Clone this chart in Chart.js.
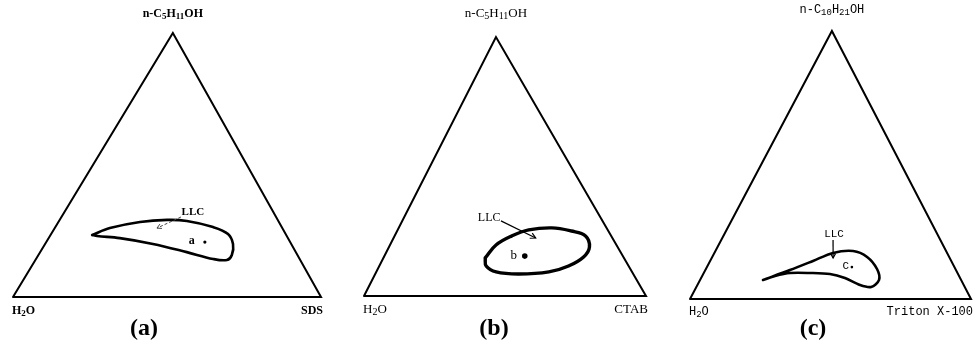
<!DOCTYPE html>
<html>
<head>
<meta charset="utf-8">
<script src="https://cdn.jsdelivr.net/npm/chart.js@4/dist/chart.umd.min.js"></script>
<style>
  html, body { margin: 0; padding: 0; background: #fff; }
  #wrap { position: relative; width: 976px; height: 348px; overflow: hidden; background: #fff; }
  .panel { position: absolute; top: 0; height: 348px; }
  .panel canvas { display: block; }
</style>
</head>
<body>
<div id="wrap">
  <div class="panel" style="left:0;width:330px"><canvas id="panelA" width="330" height="348"></canvas></div>
  <div class="panel" style="left:330px;width:320px"><canvas id="panelB" width="320" height="348"></canvas></div>
  <div class="panel" style="left:650px;width:326px"><canvas id="panelC" width="326" height="348"></canvas></div>
</div>
<script>
// Components of each system: [water corner, surfactant corner, alcohol corner]
const componentsA = ['H2O', 'SDS', 'n-C5H11OH'];
const componentsB = ['H2O', 'CTAB', 'n-C5H11OH'];
const componentsC = ['H2O', 'Triton X-100', 'n-C10H21OH'];

// Boundary of the lyotropic liquid crystal (LLC) region, [surfactant %, alcohol %]
const llcBoundaryA = [
  [13.5, 23.5], [17.9, 26.1], [26.5, 28.4], [34.9, 29.2], [41.5, 28.8],
  [51.2, 26.5], [57.4, 23.9], [61.0, 20.1], [62.8, 15.9], [62.2, 14.0],
  [57.5, 14.4], [47.6, 17.0], [35.0, 20.1], [23.1, 22.3], [15.3, 23.1], [13.5, 23.5]
];
const llcBoundaryB = [
  [36.1, 14.7], [37.6, 19.7], [41.6, 23.2], [46.5, 25.5], [54.3, 26.3],
  [61.8, 25.1], [67.7, 23.2], [71.1, 18.9], [70.8, 15.1], [67.1, 11.6],
  [61.2, 9.3], [51.0, 8.5], [42.5, 9.3], [37.9, 11.6], [36.1, 14.7]
];
const llcBoundaryC = [
  [22.4, 7.1], [30.1, 10.8], [36.6, 14.2], [42.2, 17.2], [49.0, 17.9],
  [55.1, 15.7], [60.9, 11.2], [63.7, 7.1], [62.2, 4.5], [57.9, 5.2],
  [51.2, 7.8], [45.1, 9.3], [37.8, 9.7], [30.7, 9.7], [25.9, 8.6], [22.4, 7.1]
];

// Chosen sample compositions inside the LLC region, [surfactant %, alcohol %]
const sampleNames = ['a', 'b', 'C'];
const samplePoints = [[51.5, 20.8], [49.8, 15.4], [51.6, 11.9]];

// "LLC" callouts: text anchor, arrow start, arrow end, [surfactant %, alcohol %]
const calloutText = 'LLC';
const calloutA = [[41.7, 32.2], [38.8, 30.3], [33.2, 26.1]];
const calloutB = [[30.3, 30.1], [35.0, 29.0], [50.4, 22.4]];
const calloutC = [[39.0, 24.3], [39.8, 22.0], [43.2, 15.3]];

const panelCaptions = ['(a)', '(b)', '(c)'];

// Corners of the composition triangle, [surfactant %, alcohol %]
const triangleCorners = [[0, 0], [100, 0], [0, 100], [0, 0]];

// Ternary composition -> plot coordinates (apex = horizontal position of the alcohol corner)
function toPlot(pt, apex) {
  return { x: pt[0] + pt[1] * apex, y: pt[1] };
}

// Draw a chemical formula, digits that follow a letter become subscripts
function drawFormula(ctx, text, x, y, align, size, family, weight) {
  const parts = [];
  for (let i = 0; i < text.length; i++) {
    const ch = text[i];
    const isDigit = /[0-9]/.test(ch);
    const prev = i > 0 ? text[i - 1] : '';
    const sub = isDigit && (/[A-Za-z]/.test(prev) || (parts.length && parts[parts.length - 1].sub && /[0-9]/.test(prev)));
    if (parts.length && parts[parts.length - 1].sub === sub) parts[parts.length - 1].t += ch;
    else parts.push({ t: ch, sub });
  }
  const subSize = Math.round(size * 0.78);
  let total = 0;
  parts.forEach(p => {
    ctx.font = `${weight} ${p.sub ? subSize : size}px ${family}`;
    p.w = ctx.measureText(p.t).width;
    total += p.w;
  });
  let cx = align === 'center' ? x - total / 2 : align === 'right' ? x - total : x;
  ctx.textAlign = 'left';
  ctx.textBaseline = 'middle';
  ctx.fillStyle = '#000';
  parts.forEach(p => {
    ctx.font = `${weight} ${p.sub ? subSize : size}px ${family}`;
    ctx.fillText(p.t, cx, p.sub ? y + size * 0.22 : y);
    cx += p.w;
  });
}

function drawArrow(ctx, x0, y0, x1, y1, style) {
  ctx.save();
  ctx.strokeStyle = style.color;
  ctx.lineWidth = style.width;
  ctx.setLineDash(style.dash || []);
  ctx.beginPath();
  ctx.moveTo(x0, y0);
  ctx.lineTo(x1, y1);
  ctx.stroke();
  ctx.setLineDash([]);
  const ang = Math.atan2(y1 - y0, x1 - x0);
  const h = style.head;
  ctx.beginPath();
  ctx.moveTo(x1 - h * Math.cos(ang - 0.5), y1 - h * Math.sin(ang - 0.5));
  ctx.lineTo(x1, y1);
  ctx.lineTo(x1 - h * Math.cos(ang + 0.5), y1 - h * Math.sin(ang + 0.5));
  ctx.stroke();
  ctx.restore();
}

const panels = [
  {
    id: 'panelA', components: componentsA, boundary: llcBoundaryA, sample: 0, callout: calloutA,
    apex: 0.519, padding: { left: 13, right: 9, top: 33, bottom: 51 },
    frameWidth: 2, boundaryWidth: 2.6, tension: 0.35, dotRadius: 1.6,
    family: '"Liberation Serif", serif', weight: 'bold', labelSize: 12, topGap: 19, bottomGap: 14,
    sampleSize: 12, sampleDx: -13, calloutSize: 11,
    arrow: { color: '#444', width: 1, dash: [3, 2], head: 5 },
    captionX: 144
  },
  {
    id: 'panelB', components: componentsB, boundary: llcBoundaryB, sample: 1, callout: calloutB,
    apex: 0.468, padding: { left: 34, right: 2, top: 37, bottom: 52 },
    frameWidth: 2, boundaryWidth: 3.4, tension: 0.4, dotRadius: 2.8,
    family: '"Liberation Serif", serif', weight: 'normal', labelSize: 13, topGap: 23, bottomGap: 14,
    sampleSize: 13, sampleDx: -11, calloutSize: 12,
    arrow: { color: '#000', width: 1.2, head: 6 },
    captionX: 164
  },
  {
    id: 'panelC', components: componentsC, boundary: llcBoundaryC, sample: 2, callout: calloutC,
    apex: 0.505, padding: { left: 40, right: 5, top: 31, bottom: 49 },
    frameWidth: 2, boundaryWidth: 2.6, tension: 0.3, dotRadius: 1.3,
    family: '"Liberation Mono", monospace', weight: 'normal', labelSize: 12, topGap: 21, bottomGap: 13,
    sampleSize: 11, sampleDx: -6, calloutSize: 11,
    arrow: { color: '#000', width: 1.2, head: 5 },
    captionX: 163
  }
];

const annotate = {
  id: 'ternaryLabels',
  afterDatasetsDraw(chart) {
    const p = chart.options.plugins.ternaryLabels;
    const { ctx, chartArea: area, scales: { x, y } } = chart;
    const px = pt => { const q = toPlot(pt, p.apex); return [x.getPixelForValue(q.x), y.getPixelForValue(q.y)]; };
    ctx.save();
    // corner labels
    const apexPx = px([0, 100]);
    drawFormula(ctx, p.components[2], apexPx[0], area.top - p.topGap, 'center', p.labelSize, p.family, p.weight);
    drawFormula(ctx, p.components[0], area.left - 1, area.bottom + p.bottomGap, 'left', p.labelSize, p.family, p.weight);
    drawFormula(ctx, p.components[1], area.right + 2, area.bottom + p.bottomGap, 'right', p.labelSize, p.family, p.weight);
    // sample label next to its point
    const s = px(samplePoints[p.sample]);
    ctx.font = `${p.weight} ${p.sampleSize}px ${p.family}`;
    ctx.fillStyle = '#000';
    ctx.textAlign = 'center';
    ctx.textBaseline = 'middle';
    ctx.fillText(sampleNames[p.sample], s[0] + p.sampleDx, s[1] - 1);
    // LLC callout
    const t = px(p.callout[0]);
    ctx.font = `${p.weight} ${p.calloutSize}px ${p.family}`;
    ctx.fillText(calloutText, t[0], t[1]);
    const a0 = px(p.callout[1]), a1 = px(p.callout[2]);
    drawArrow(ctx, a0[0], a0[1], a1[0], a1[1], p.arrow);
    // panel caption
    ctx.font = 'bold 24px "Liberation Serif", serif';
    ctx.textAlign = 'center';
    ctx.textBaseline = 'middle';
    ctx.fillText(p.caption, p.captionX, 329);
    ctx.restore();
  }
};

panels.forEach((cfg, i) => {
  const lineBase = { showLine: true, pointRadius: 0, fill: false, clip: false, borderColor: '#000',
    borderJoinStyle: 'round', borderCapStyle: 'round' };
  new Chart(document.getElementById(cfg.id), {
    type: 'scatter',
    data: {
      datasets: [
        Object.assign({}, lineBase, {
          label: 'triangle', data: triangleCorners.map(c => toPlot(c, cfg.apex)),
          borderWidth: cfg.frameWidth, tension: 0, borderJoinStyle: 'miter'
        }),
        Object.assign({}, lineBase, {
          label: 'LLC', data: cfg.boundary.map(c => toPlot(c, cfg.apex)),
          borderWidth: cfg.boundaryWidth, tension: cfg.tension
        }),
        {
          label: 'sample', data: [toPlot(samplePoints[cfg.sample], cfg.apex)],
          showLine: false, clip: false, pointRadius: cfg.dotRadius, pointBorderWidth: 0,
          pointBackgroundColor: '#000', pointBorderColor: '#000'
        }
      ]
    },
    options: {
      responsive: false,
      animation: false,
      events: [],
      layout: { padding: cfg.padding },
      scales: {
        x: { type: 'linear', min: 0, max: 100, display: false },
        y: { type: 'linear', min: 0, max: 100, display: false }
      },
      plugins: {
        legend: { display: false },
        tooltip: { enabled: false },
        ternaryLabels: {
          apex: cfg.apex, components: cfg.components, sample: cfg.sample, callout: cfg.callout,
          family: cfg.family, weight: cfg.weight, labelSize: cfg.labelSize,
          topGap: cfg.topGap, bottomGap: cfg.bottomGap, sampleSize: cfg.sampleSize,
          sampleDx: cfg.sampleDx, calloutSize: cfg.calloutSize, arrow: cfg.arrow,
          caption: panelCaptions[i], captionX: cfg.captionX
        }
      }
    },
    plugins: [annotate]
  });
});
</script>
</body>
</html>
